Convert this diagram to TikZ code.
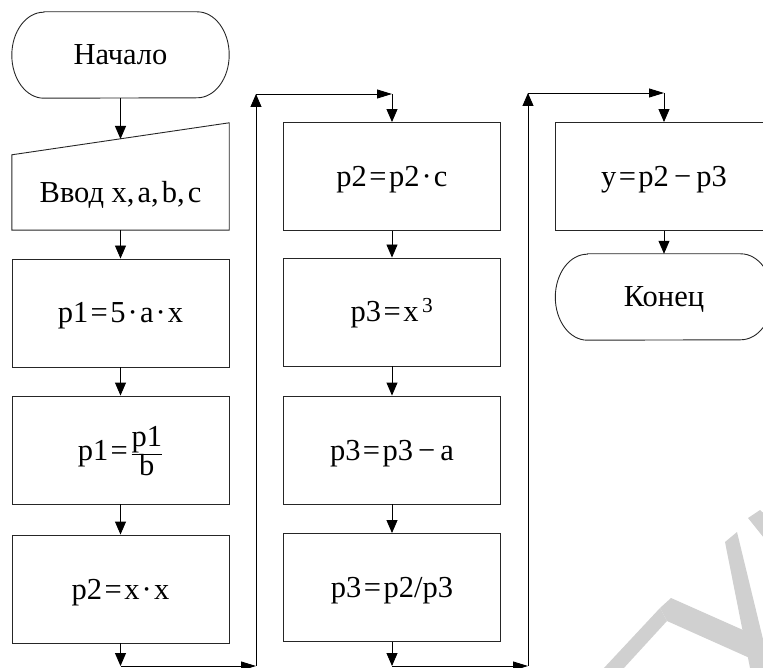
\documentclass[tikz,border=0pt]{standalone}
\usepackage{fontspec}
\setmainfont{Liberation Serif}
\usetikzlibrary{arrows.meta}
\definecolor{wm}{RGB}{208,208,208}
\newcommand{\myeq}{\hspace{0.08em}=\hspace{0.08em}}
\newcommand{\mdot}{\hspace{0.07em}·\hspace{0.07em}}
\begin{document}
\begin{tikzpicture}[x=1pt,y=-1pt,
  lblfont/.style={font=\fontsize{30.5}{36}\selectfont, text height=20pt, text depth=0pt},
  box/.style={draw=black!85, line width=0.9pt, minimum width=217pt, minimum height=108pt, inner sep=0pt, lblfont},
  hid/.style={inner sep=0pt, minimum width=217pt, lblfont},
  shp/.style={draw=black!85, line width=0.9pt},
  con/.style={line width=0.9pt, draw=black},
  va/.style={con, -{Triangle[length=13pt,width=11pt]}},
  ha/.style={con, -{Triangle[length=15pt,width=9pt]}},
]
\useasboundingbox (0,0) rectangle (763,668);
\clip (0,0) rectangle (763,668);

% watermark
\fill[wm] (603,669) -- (623,669) -- (667,621) -- (660,608) -- cycle;
\fill[wm] (660,608) -- (671,598) -- (752,634) -- (752,659) -- (667,621) -- cycle;
\fill[wm] (725,542) -- (737,532) -- (770,668) -- (750,668) -- cycle;
\fill[wm] (748,518) -- (760,510) -- (780,528) -- (772,548) -- cycle;

% column 1
\node[hid, minimum height=86pt] (start) at (120.5,55) {Начало};
\draw[shp] ([xshift=32pt]start.north west) -- ([xshift=-32pt]start.north east)
  arc[start angle=-90, end angle=90, x radius=32, y radius=43]
  -- ([xshift=32pt]start.south west)
  arc[start angle=90, end angle=270, x radius=32, y radius=43] -- cycle;

\node[hid, minimum height=75pt] (inp) at (120.5,192.5) {Ввод x,\hspace{0.1em}a,\hspace{0.1em}b,\hspace{0.1em}c};
\draw[shp] (inp.north west) -- ([yshift=32pt]inp.north east) -- (inp.south east) -- (inp.south west) -- cycle;
\coordinate (inTop) at (120.5,139);

\node[box] (b1) at (120.5,313) {p1\myeq 5\mdot a\mdot x};
\node[box] (b2) at (120.5,450) {p1\myeq$\frac{\mbox{p1}}{\mbox{b}}$};
\node[box] (b3) at (120.5,589) {p2\myeq x\mdot x};

% column 2
\node[box] (c1) at (392,176.5) {p2\myeq p2\mdot c};
\node[box] (c2) at (392,312) {p3\myeq x\hspace{0.12em}\textsuperscript{3}};
\node[box] (c3) at (392,450) {p3\myeq p3\,−\,a};
\node[box] (c4) at (392,587.5) {p3\myeq p2/p3};

% column 3
\node[box] (d1) at (664,176.5) {y\myeq p2\,−\,p3};
\node[hid, minimum height=86pt] (fin) at (664,297) {Конец};
\draw[shp] ([xshift=32pt]fin.north west) -- ([xshift=-32pt]fin.north east)
  arc[start angle=-90, end angle=90, x radius=32, y radius=43]
  -- ([xshift=32pt]fin.south west)
  arc[start angle=90, end angle=270, x radius=32, y radius=43] -- cycle;

% routing points
\coordinate (p1) at (120.5,666);
\coordinate (p2) at (256,666);
\coordinate (p3) at (256,94);
\coordinate (p4) at (392,94);
\coordinate (q1) at (392,666);
\coordinate (q2) at (528,666);
\coordinate (q3) at (528,93);
\coordinate (q4) at (664,93);

% connectors
\draw[va] (start.south) -- (inTop);
\draw[va] (inp.south) -- (b1.north);
\draw[va] (b1.south) -- (b2.north);
\draw[va] (b2.south) -- (b3.north);
\draw[va] (b3.south) -- (p1);
\draw[ha] (p1) -- (p2);
\draw[va] (p2) -- (p3);
\draw[ha] (p3) -- (p4);
\draw[va] (p4) -- (c1.north);
\draw[va] (c1.south) -- (c2.north);
\draw[va] (c2.south) -- (c3.north);
\draw[va] (c3.south) -- (c4.north);
\draw[va] (c4.south) -- (q1);
\draw[ha] (q1) -- (q2);
\draw[va] (q2) -- (q3);
\draw[ha] (q3) -- (q4);
\draw[va] (q4) -- (d1.north);
\draw[va] (d1.south) -- (fin.north);
\end{tikzpicture}
\end{document}
